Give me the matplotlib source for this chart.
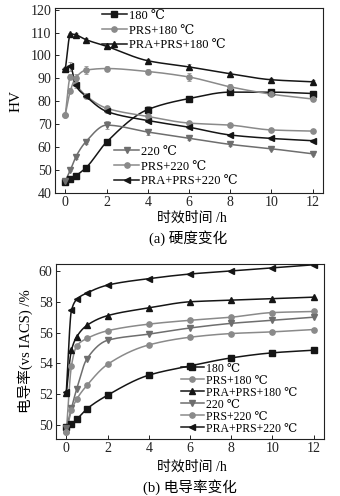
import numpy as np
import matplotlib
matplotlib.use("Agg")
import matplotlib.pyplot as plt
from matplotlib.lines import Line2D

plt.rcParams['font.family'] = ['Liberation Serif', 'DejaVu Serif', 'Noto Sans CJK SC']
plt.rcParams['mathtext.fontset'] = 'stix'

# ---------------- data ----------------
time_h = [0, 0.25, 0.5, 1, 2, 4, 6, 8, 10, 12]
series_labels = ['180 ℃', 'PRS+180 ℃', 'PRA+PRS+180 ℃',
                 '220 ℃', 'PRS+220 ℃', 'PRA+PRS+220 ℃']

hv_180 = [45, 46.2, 47.5, 51, 62.2, 76.4, 81.2, 84.0, 84.0, 83.4]
hv_prs_180 = [74.2, 84.7, 90.2, 93.6, 94.3, 93.0, 90.6, 86.3, 83.1, 81.0]
hv_pra_prs_180 = [94.0, 109.4, 109.0, 106.9, 104.0, 97.7, 95.0, 92.0, 89.4, 88.5]
hv_220 = [45.2, 50.1, 55.6, 62.4, 69.6, 66.6, 63.9, 61.2, 59.3, 57.1]
hv_prs_220 = [74.2, 90.8, 87.5, 82.5, 77.0, 73.4, 70.5, 69.6, 67.5, 67.0]
hv_pra_prs_220 = [94.0, 95.3, 87.0, 82.2, 75.6, 71.6, 68.7, 65.3, 63.8, 62.8]

hv_err_180 = [0.8, 0.6, 0.6, 1.0, 1.0, 1.6, 1.2, 1.4, 0.8, 0.8]
hv_err_prs_180 = [0.8, 1.2, 1.5, 1.8, 1.0, 1.0, 1.6, 1.2, 0.8, 0.8]
hv_err_pra_prs_180 = [0.8, 0.6, 0.6, 0.6, 0.6, 0.8, 1.4, 0.8, 0.8, 0.6]
hv_err_220 = [0.6, 0.6, 0.8, 1.2, 1.6, 1.2, 0.6, 0.6, 0.6, 0.6]
hv_err_prs_220 = [0.8, 1.0, 1.0, 0.8, 0.8, 1.2, 0.8, 0.6, 0.6, 0.6]
hv_err_pra_prs_220 = [0.8, 2.0, 1.0, 0.8, 0.8, 0.8, 0.6, 0.6, 0.6, 0.6]

ec_180 = [49.9, 50.07, 50.37, 51.05, 51.94, 53.24, 53.84, 54.36, 54.69, 54.86]
ec_prs_180 = [49.55, 53.85, 55.12, 55.62, 56.12, 56.55, 56.8, 57.0, 57.3, 57.37]
ec_pra_prs_180 = [52.1, 54.86, 55.72, 56.47, 57.1, 57.6, 58.0, 58.1, 58.2, 58.3]
ec_220 = [49.8, 51.1, 52.33, 54.3, 55.5, 55.9, 56.3, 56.6, 56.8, 57.0]
ec_prs_220 = [49.55, 50.95, 51.67, 52.58, 53.94, 55.2, 55.7, 55.94, 56.05, 56.2]
ec_pra_prs_220 = [52.14, 57.45, 58.15, 58.57, 59.08, 59.5, 59.8, 60.0, 60.2, 60.4]

# ---------------- style ----------------
BLACK = '#151515'
GRAY = '#8a8a8a'
DGRAY = '#6e6e6e'
styles = [
    dict(color=BLACK, marker='s'),
    dict(color=GRAY, marker='o'),
    dict(color=BLACK, marker='^'),
    dict(color=DGRAY, marker='v'),
    dict(color=GRAY, marker='o'),
    dict(color=BLACK, marker='<'),
]


def pchip(x, y, xn):
    x = np.asarray(x, float)
    y = np.asarray(y, float)
    h = np.diff(x)
    d = np.diff(y) / h
    n = len(x)
    m = np.zeros(n)
    for k in range(1, n - 1):
        if d[k - 1] * d[k] <= 0:
            m[k] = 0.0
        else:
            w1 = 2 * h[k] + h[k - 1]
            w2 = h[k] + 2 * h[k - 1]
            m[k] = (w1 + w2) / (w1 / d[k - 1] + w2 / d[k])
    m[0] = d[0]
    m[-1] = d[-1]
    idx = np.clip(np.searchsorted(x, xn) - 1, 0, n - 2)
    t = (xn - x[idx]) / h[idx]
    h00 = 2 * t**3 - 3 * t**2 + 1
    h10 = t**3 - 2 * t**2 + t
    h01 = -2 * t**3 + 3 * t**2
    h11 = t**3 - t**2
    return (h00 * y[idx] + h10 * h[idx] * m[idx] + h01 * y[idx + 1]
            + h11 * h[idx] * m[idx + 1])


fig = plt.figure(figsize=(3.4, 4.96), dpi=100)
fig.patch.set_facecolor('white')

ax1 = fig.add_axes([55 / 340, 1 - 193 / 496, 268 / 340, 185 / 496])
ax2 = fig.add_axes([56 / 340, 1 - 439 / 496, 268 / 340, 175 / 496])

xs = np.linspace(0, 12, 600)


def draw(ax, ys, errs=None):
    handles = []
    for i, y in enumerate(ys):
        st = styles[i]
        ax.plot(xs, pchip(time_h, y, xs), color=st['color'], lw=1.1, zorder=2)
        if errs is not None:
            ax.errorbar(time_h, y, yerr=errs[i], fmt='none', ecolor='#a0a0a0',
                        elinewidth=0.7, capsize=1.5, capthick=0.7, zorder=1)
        ax.plot(time_h, y, linestyle='none', marker=st['marker'],
                color=st['color'], markersize=3.8, zorder=3)
        handles.append(Line2D([0], [0], color=st['color'], lw=1.1,
                              marker=st['marker'], markersize=3.8))
    return handles


hv_all = [hv_180, hv_prs_180, hv_pra_prs_180, hv_220, hv_prs_220, hv_pra_prs_220]
hv_errs = [hv_err_180, hv_err_prs_180, hv_err_pra_prs_180,
           hv_err_220, hv_err_prs_220, hv_err_pra_prs_220]
ec_all = [ec_180, ec_prs_180, ec_pra_prs_180, ec_220, ec_prs_220, ec_pra_prs_220]

h1 = draw(ax1, hv_all, hv_errs)
h2 = draw(ax2, ec_all)

for ax in (ax1, ax2):
    ax.set_xlim(-0.5, 12.5)
    ax.set_xticks([0, 2, 4, 6, 8, 10, 12])
    ax.tick_params(direction='in', length=3, width=0.7, labelsize=10,
                   colors='#222222', pad=2.5)
    for sp in ax.spines.values():
        sp.set_linewidth(0.8)
        sp.set_color('#222222')

ax1.set_ylim(40, 120.7)
ax1.set_yticks(range(40, 121, 10))
ax2.set_ylim(49.1, 60.45)
ax2.set_yticks(range(50, 61, 2))

leg_kw = dict(frameon=False, fontsize=9, handlelength=2.0, handletextpad=0.15,
              borderpad=0, borderaxespad=0, labelspacing=0.22)
l1 = ax1.legend(h1[:3], series_labels[:3], loc='upper left',
                bbox_to_anchor=(0.175, 0.99), **leg_kw)
ax1.add_artist(l1)
ax1.legend(h1[3:], series_labels[3:], loc='upper left',
           bbox_to_anchor=(0.222, 0.255), **leg_kw)
leg_kw2 = dict(leg_kw)
leg_kw2['labelspacing'] = 0.0
leg_kw2['fontsize'] = 8.5
ax2.legend(h2, series_labels, loc='upper left', bbox_to_anchor=(0.465, 0.437), **leg_kw2)

ax1.set_ylabel('HV', fontsize=11, labelpad=6)
ax2.set_ylabel('电导率(vs IACS) /%', fontsize=10.5, labelpad=4)

fig.text(192 / 340, 1 - 218 / 496, '时效时间 /h', ha='center', va='center', fontsize=10)
fig.text(188 / 340, 1 - 238 / 496, '(a) 硬度变化', ha='center', va='center', fontsize=10.5)
fig.text(192 / 340, 1 - 467 / 496, '时效时间 /h', ha='center', va='center', fontsize=10)
fig.text(190 / 340, 1 - 487 / 496, '(b) 电导率变化', ha='center', va='center', fontsize=10.5)

fig.savefig('out.png', dpi=100, facecolor='white')
